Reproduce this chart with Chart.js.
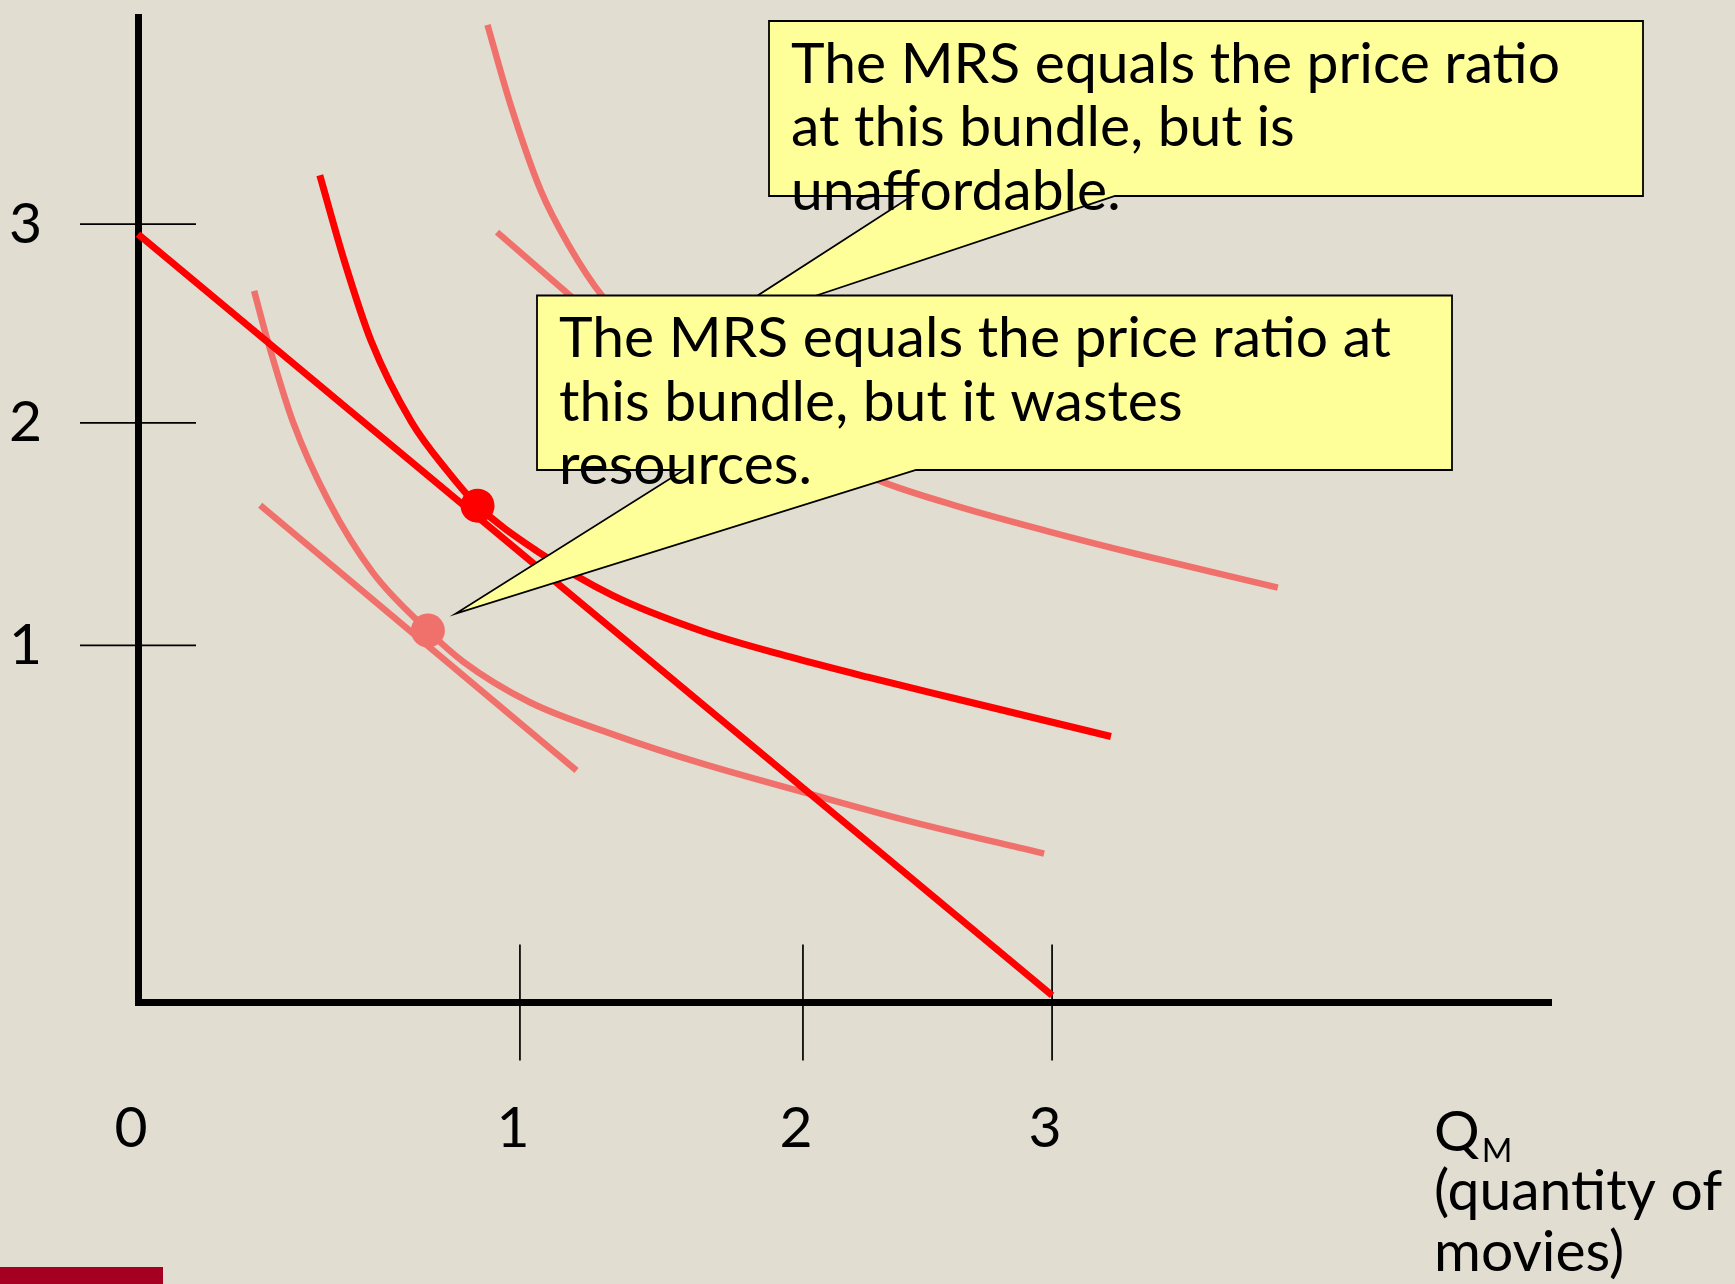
<!DOCTYPE html>
<html>
<head>
<meta charset="utf-8">
<title>MRS equals the price ratio</title>
<script src="https://cdn.jsdelivr.net/npm/chart.js@4.4.1/dist/chart.umd.min.js"></script>
<style>
  html, body { margin: 0; padding: 0; background: #e2ddd1; }
  #wrap { width: 1735px; height: 1284px; }
</style>
</head>
<body>
<div id="wrap"><canvas id="mrsChart" width="1735" height="1284"></canvas></div>
<script>
// Tick labels
const xTickValues = [0, 1, 2, 3];
const xTickLabels = ['0', '1', '2', '3'];
const yTickValues = [1, 2, 3];
const yTickLabels = ['1', '2', '3'];

// Budget line
const budgetX = [0, 3];
const budgetY = [2.95, 0.02];

// Indifference curve through the chosen bundle (bright)
const midCurveX = [0.476, 0.541, 0.611, 0.716, 0.810, 0.889, 1.059, 1.327, 1.642, 1.958, 2.261, 2.618, 3.236];
const midCurveY = [3.236, 2.810, 2.409, 2.004, 1.784, 1.628, 1.425, 1.225, 1.065, 0.967, 0.911, 0.850, 0.745];

// Higher indifference curve (faint, partly behind the callouts)
const highCurveX = [0.915, 0.973, 1.074, 1.170, 1.295, 1.565, 1.919, 2.332, 2.618, 2.976, 3.335, 3.905];
const highCurveY = [3.962, 3.591, 3.161, 2.900, 2.631, 2.253, 1.935, 1.729, 1.626, 1.515, 1.412, 1.260];
const highTangentX = [0.94, 1.42];
const highTangentY = [2.96, 2.34];

// Lower indifference curve (faint)
const lowCurveX = [0.304, 0.340, 0.406, 0.500, 0.615, 0.759, 0.851, 1.035, 1.336, 1.636, 2.028, 2.438, 2.968];
const lowCurveY = [2.664, 2.409, 2.003, 1.644, 1.327, 1.067, 0.955, 0.841, 0.749, 0.671, 0.584, 0.506, 0.417];
const lowTangentX = [0.32, 1.20];
const lowTangentY = [1.63, 0.65];

// Bundles where MRS equals the price ratio
const chosenBundle = { x: 0.889, y: 1.628 };
const wastefulBundle = { x: 0.759, y: 1.067 };

// The slide's axes are hand drawn: unit steps are not evenly spaced
const AXIS_KNOTS = {
  x: { values: [0, 1, 2, 3, 5], fracs: [0, 0.2703, 0.4706, 0.6469, 1] },
  y: { values: [0, 1, 2, 3, 4], fracs: [0, 0.3623, 0.5882, 0.7898, 1] }
};

function interp(v, from, to) {
  let i = 0;
  while (i < from.length - 2 && v > from[i + 1]) i++;
  return to[i] + (v - from[i]) * (to[i + 1] - to[i]) / (from[i + 1] - from[i]);
}

class SlideScale extends Chart.LinearScale {
  static id = 'slide';
  getPixelForValue(value) {
    const k = AXIS_KNOTS[this.axis];
    return this.getPixelForDecimal(interp(value, k.values, k.fracs));
  }
  getValueForPixel(pixel) {
    const k = AXIS_KNOTS[this.axis];
    return interp(this.getDecimalForPixel(pixel), k.fracs, k.values);
  }
}
Chart.register(SlideScale);

const FONT_FAMILY = 'Lato, "Open Sans", sans-serif';
const measureCtx = document.createElement('canvas').getContext('2d');
measureCtx.font = '100px ' + FONT_FAMILY;
const textSize = Math.round(100 * 834 / measureCtx.measureText('The MRS equals the price ratio at').width);

const BRIGHT = '#ff0000';
const FAINT = '#f0716c';

function points(xs, ys) {
  return xs.map((x, i) => ({ x: x, y: ys[i] }));
}

function lineSet(xs, ys, color, width, curved) {
  return {
    data: points(xs, ys),
    showLine: true,
    borderColor: color,
    borderWidth: width,
    borderCapStyle: 'butt',
    pointRadius: 0,
    cubicInterpolationMode: curved ? 'monotone' : 'default',
    tension: 0,
    clip: false
  };
}

function dotSet(p, color) {
  return {
    data: [p],
    showLine: false,
    pointRadius: 17,
    pointBackgroundColor: color,
    pointBorderWidth: 0,
    clip: false
  };
}

// Axes sit exactly on the slide's lines, so drop the label padding Chart.js adds
function fixAxisBox(scale, size) {
  if (scale.isHorizontal()) scale.height = size; else scale.width = size;
  scale.paddingTop = 0;
  scale.paddingBottom = 0;
  scale.paddingLeft = 0;
  scale.paddingRight = 0;
}

function drawCallout(ctx, box, tail, lines) {
  ctx.save();
  ctx.beginPath();
  ctx.moveTo(box.left, box.top);
  ctx.lineTo(box.right, box.top);
  ctx.lineTo(box.right, box.bottom);
  ctx.lineTo(tail.right, box.bottom);
  ctx.lineTo(tail.tipX, tail.tipY);
  ctx.lineTo(tail.left, box.bottom);
  ctx.lineTo(box.left, box.bottom);
  ctx.closePath();
  ctx.fillStyle = '#ffff99';
  ctx.fill();
  ctx.lineWidth = 1.8;
  ctx.strokeStyle = '#000';
  ctx.stroke();

  ctx.fillStyle = '#000';
  ctx.font = textSize + 'px ' + FONT_FAMILY;
  ctx.textBaseline = 'alphabetic';
  ctx.textAlign = 'left';
  lines.forEach(function(line, i) {
    ctx.fillText(line, box.left + 22, box.top + 61.5 + i * 63.5);
  });
  ctx.restore();
}

const slideDecor = {
  id: 'slideDecor',
  beforeDatasetsDraw(chart) {
    const ctx = chart.ctx;
    const x = chart.scales.x;
    const y = chart.scales.y;
    const area = chart.chartArea;
    ctx.save();
    ctx.strokeStyle = '#000';
    ctx.lineWidth = 1.7;
    ctx.beginPath();
    yTickValues.forEach(function(v) {
      const py = y.getPixelForValue(v);
      ctx.moveTo(area.left - 58, py);
      ctx.lineTo(area.left + 58, py);
    });
    xTickValues.slice(1).forEach(function(v) {
      const px = x.getPixelForValue(v);
      ctx.moveTo(px, area.bottom - 58);
      ctx.lineTo(px, area.bottom + 58);
    });
    ctx.stroke();
    ctx.restore();
  },
  afterDraw(chart) {
    const ctx = chart.ctx;
    const x = chart.scales.x;
    const y = chart.scales.y;

    // Upper callout: tip sits behind the lower callout
    drawCallout(ctx,
      { left: 769, top: 21, right: 1643, bottom: 196 },
      { left: 912, right: 1115, tipX: 695, tipY: 336 },
      ['The MRS equals the price ratio', 'at this bundle, but is', 'unaffordable.']);

    // Lower callout points at the wasteful bundle
    const wx = x.getPixelForValue(wastefulBundle.x);
    const wy = y.getPixelForValue(wastefulBundle.y);
    drawCallout(ctx,
      { left: 537, top: 295.5, right: 1452, bottom: 470 },
      { left: 684, right: 916, tipX: wx + 28, tipY: wy - 17 },
      ['The MRS equals the price ratio at', 'this bundle, but it wastes', 'resources.']);

    // Horizontal axis title
    ctx.save();
    ctx.fillStyle = '#000';
    ctx.textAlign = 'left';
    ctx.textBaseline = 'alphabetic';
    ctx.font = textSize + 'px ' + FONT_FAMILY;
    ctx.fillText('Q', 1434, 1151);
    const qWidth = ctx.measureText('Q').width;
    ctx.font = Math.round(textSize * 0.58) + 'px ' + FONT_FAMILY;
    ctx.fillText('M', 1434 + qWidth + 2, 1162);
    ctx.font = textSize + 'px ' + FONT_FAMILY;
    ctx.fillText('(quantity of', 1434, 1210);
    ctx.fillText('movies)', 1434, 1271);

    // Slide footer bar
    ctx.fillStyle = '#a50021';
    ctx.fillRect(0, 1267, 163, 17);
    ctx.restore();
  }
};

const tickFont = { family: FONT_FAMILY, size: textSize, lineHeight: 1.2 };

const ctx = document.getElementById('mrsChart').getContext('2d');
new Chart(ctx, {
  type: 'scatter',
  data: {
    datasets: [
      dotSet(chosenBundle, BRIGHT),
      dotSet(wastefulBundle, FAINT),
      lineSet(budgetX, budgetY, BRIGHT, 7, false),
      lineSet(midCurveX, midCurveY, BRIGHT, 7, true),
      lineSet(highCurveX, highCurveY, FAINT, 6.5, true),
      lineSet(highTangentX, highTangentY, FAINT, 6.5, false),
      lineSet(lowCurveX, lowCurveY, FAINT, 6.5, true),
      lineSet(lowTangentX, lowTangentY, FAINT, 6.5, false)
    ]
  },
  options: {
    responsive: false,
    animation: false,
    events: [],
    layout: {
      padding: { top: 13, right: 184, left: 0, bottom: 0 }
    },
    plugins: {
      legend: { display: false },
      tooltip: { enabled: false }
    },
    scales: {
      x: {
        type: 'slide',
        position: 'bottom',
        min: 0,
        max: 5,
        afterFit: function(scale) { fixAxisBox(scale, 281.5); },
        afterBuildTicks: function(scale) {
          scale.ticks = xTickValues.map(function(v) { return { value: v }; });
        },
        grid: { display: false, drawTicks: false },
        border: { display: true, color: '#000', width: 7 },
        ticks: {
          color: '#000',
          font: tickFont,
          padding: 126 - textSize * 0.6,
          labelOffset: -7,
          maxRotation: 0,
          autoSkip: false,
          callback: function(value, index) { return xTickLabels[index]; }
        }
      },
      y: {
        type: 'slide',
        position: 'left',
        min: 0,
        max: 4,
        afterFit: function(scale) { fixAxisBox(scale, 138); },
        afterBuildTicks: function(scale) {
          scale.ticks = yTickValues.map(function(v) { return { value: v }; });
        },
        grid: { display: false, drawTicks: false },
        border: { display: true, color: '#000', width: 7 },
        ticks: {
          color: '#000',
          font: tickFont,
          padding: 96,
          autoSkip: false,
          callback: function(value, index) { return yTickLabels[index]; }
        }
      }
    }
  },
  plugins: [slideDecor]
});
</script>
</body>
</html>
